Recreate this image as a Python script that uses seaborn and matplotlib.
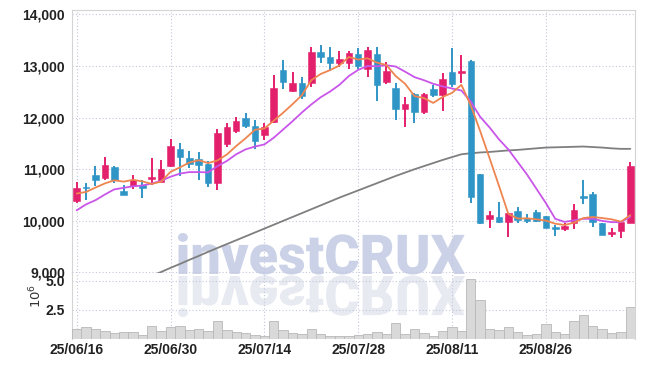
import numpy as np
import pandas as pd
import matplotlib
matplotlib.use('Agg')
import matplotlib.pyplot as plt
import seaborn as sns
from matplotlib.ticker import FuncFormatter
from matplotlib.textpath import TextPath
from matplotlib.patches import PathPatch
from matplotlib.font_manager import FontProperties
from matplotlib.transforms import Affine2D, IdentityTransform

# trading days 25/06/16 .. 25/09/08 (08/15 holiday)
days = pd.bdate_range('2025-06-16', '2025-09-08')
days = days[days != pd.Timestamp('2025-08-15')]
date_labels = [d.strftime('%y/%m/%d') for d in days]

opens = [10390, 10650, 10890, 10835, 11040, 10580, 10675, 10690, 10810, 10760,
         11070, 11390, 11220, 11195, 11110, 10725, 11490, 11745, 11990, 11845,
         11670, 11920, 12920, 12520, 12675, 12675, 13270, 13180, 13050, 13050,
         13230, 12935, 13230, 12695, 12565, 12170, 12465, 12110, 12545, 12435,
         12875, 12860, 13095, 10905, 10035, 10080, 9980, 10190, 10060, 10175,
         10090, 9880, 9845, 9950, 10480, 10515, 9960, 9750, 9805, 9965]
highs = [10750, 10740, 11070, 11230, 11060, 10690, 10890, 10800, 11210, 11180,
         11580, 11510, 11350, 11340, 11160, 11770, 11905, 12015, 12080, 11950,
         11890, 12820, 13115, 12875, 12790, 13360, 13405, 13370, 13295, 13295,
         13340, 13370, 13370, 13080, 12665, 12390, 12470, 12480, 12630, 12855,
         13340, 13210, 13110, 10905, 10195, 10375, 10160, 10260, 10135, 10205,
         10095, 9915, 9950, 10335, 10800, 10555, 9965, 9870, 9985, 11145]
lows = [10340, 10400, 10670, 10790, 10740, 10500, 10610, 10435, 10690, 10750,
        11045, 10870, 11015, 10800, 10650, 10600, 11435, 11695, 11790, 11400,
        11565, 11900, 12545, 12500, 12355, 12600, 13060, 12900, 12985, 12950,
        12950, 12790, 12315, 12650, 11950, 11820, 11890, 12070, 12405, 12130,
        12585, 12665, 10350, 9935, 9855, 9950, 9690, 9960, 9960, 9980,
        9860, 9705, 9800, 9835, 10325, 9885, 9735, 9690, 9660, 9960]
closes = [10630, 10640, 10790, 11080, 10790, 10505, 10800, 10640, 10850, 11000,
          11450, 11240, 11100, 11080, 10725, 11700, 11810, 11930, 11835, 11545,
          11820, 12570, 12695, 12675, 12415, 13270, 13180, 13060, 13130, 13245,
          13005, 13315, 12635, 12900, 12170, 12260, 12110, 12455, 12435, 12740,
          12650, 12900, 10455, 9960, 10115, 9980, 10155, 10015, 9995, 9995,
          9865, 9845, 9895, 10220, 10445, 9980, 9735, 9780, 9980, 11065]

ma5 = [10530, 10560, 10645, 10725, 10785, 10760, 10795, 10765, 10715, 10760,
       10950, 11035, 11130, 11175, 11120, 11170, 11285, 11450, 11600, 11765,
       11790, 11940, 12095, 12260, 12435, 12725, 12845, 12920, 13010, 13175,
       13125, 13150, 13065, 13020, 12805, 12655, 12415, 12380, 12285, 12400,
       12480, 12635, 12235, 11740, 11215, 10680, 10135, 10045, 10050, 10030,
       10005, 9945, 9920, 9965, 10055, 10075, 10055, 10030, 9985, 10110]
ma10 = [10205, 10320, 10400, 10510, 10610, 10640, 10670, 10685, 10725, 10775,
        10855, 10915, 10945, 10945, 10940, 11060, 11160, 11290, 11385, 11440,
        11480, 11610, 11770, 11930, 12100, 12255, 12395, 12505, 12635, 12805,
        12925, 13000, 12995, 13015, 12990, 12890, 12785, 12725, 12655, 12605,
        12565, 12525, 12310, 12015, 11810, 11580, 11385, 11140, 10895, 10620,
        10345, 10040, 9980, 10010, 10040, 10040, 10000, 9975, 9975, 10080]
ma60 = [np.nan] * 8 + [
    8935, 9010, 9090, 9165, 9245, 9320, 9400, 9475, 9550, 9625,
    9700, 9775, 9850, 9925, 10000, 10075, 10150, 10225, 10300, 10375,
    10450, 10520, 10590, 10660, 10730, 10800, 10870, 10935, 11000, 11060,
    11120, 11180, 11235, 11290, 11310, 11325, 11335, 11350, 11365, 11375,
    11390, 11405, 11420, 11425, 11430, 11435, 11440, 11430, 11420, 11405,
    11395, 11395]
volume = [860000, 950000, 860000, 630000, 460000, 540000, 540000, 260000, 1120000, 630000,
          950000, 1120000, 720000, 780000, 630000, 1470000, 720000, 540000, 460000, 340000,
          200000, 1470000, 720000, 460000, 370000, 860000, 370000, 230000, 230000, 230000,
          290000, 370000, 540000, 370000, 1380000, 370000, 860000, 460000, 200000, 630000,
          1030000, 630000, 5090000, 3300000, 860000, 720000, 1030000, 540000, 260000, 430000,
          1290000, 540000, 370000, 1550000, 2070000, 1120000, 780000, 460000, 540000, 2760000]

UP = '#e3206b'
DOWN = '#2f95c6'

sns.set_style('white')
plt.rcParams['font.family'] = ['Liberation Sans Narrow', 'Liberation Sans', 'DejaVu Sans']

df = pd.DataFrame({'o': opens, 'h': highs, 'l': lows, 'c': closes,
                   'ma5': ma5, 'ma10': ma10, 'ma60': ma60, 'vol': volume})
df['i'] = np.arange(len(df))
df['col'] = np.where(df['c'] >= df['o'], UP, DOWN)

W, H = 645, 367
fig = plt.figure(figsize=(W / 100, H / 100), dpi=100)
fig.patch.set_facecolor('white')
ax = fig.add_axes([72 / W, 1 - 273 / H, 563 / W, 263 / H])
axv = fig.add_axes([72 / W, 1 - 338.5 / H, 563 / W, 65.5 / H])
for a in (ax, axv):
    a.set_facecolor('none')

# watermark with reflection
fp = FontProperties(family=['Roboto', 'DejaVu Sans'], weight='black')
tp = TextPath((0, 0), 'investCRUX', size=40, prop=fp)
ext = tp.get_extents()
sx = 287 / ext.width
sy = 41 / ext.y1
base = H - 274
tr = Affine2D().translate(-ext.x0, 0).scale(sx, sy).translate(178, base)
fig.add_artist(PathPatch(tr.transform_path(tp), fc='#cbd2e8', ec='none',
                         transform=IdentityTransform(), zorder=-1))
rtr = Affine2D().translate(-ext.x0, 0).scale(sx, -sy).translate(178, base - 2)
fig.add_artist(PathPatch(rtr.transform_path(tp), fc='#e8eaf2', ec='none',
                         transform=IdentityTransform(), zorder=-1))

# candles
ax.vlines(df['i'], df['l'], df['h'], colors=df['col'], lw=1.4, zorder=3)
ax.bar(df['i'], df['c'] - df['o'], bottom=df['o'], width=0.7,
       color=df['col'], edgecolor=df['col'], lw=0.4, zorder=4)

sns.lineplot(x=df['i'], y=df['ma60'], ax=ax, color='#7f7f7f', lw=1.3, zorder=2)
sns.lineplot(x=df['i'], y=df['ma10'], ax=ax, color='#c955ea', lw=1.3, zorder=5)
sns.lineplot(x=df['i'], y=df['ma5'], ax=ax, color='#ee8550', lw=1.3, zorder=6)

sns.barplot(x=df['i'], y=df['vol'], ax=axv, color='#d9d9d9', width=1.0,
            edgecolor='#b8b8b8', linewidth=0.6, saturation=1, zorder=3)

grid_kw = dict(color='#c4c6da', lw=0.8, ls=(0, (1, 2)))
tick_pos = list(range(0, len(df), 10))

ax.set_xlim(-0.5, len(df) - 0.5)
ax.set_ylim(8990, 14085)
ax.set_yticks([9000, 10000, 11000, 12000, 13000, 14000])
ax.yaxis.set_major_formatter(FuncFormatter(lambda v, p: f'{v:,.0f}'))
ax.set_xticks(tick_pos)
ax.set_xticklabels([])
ax.grid(True, **grid_kw)
ax.set_xlabel('')
ax.set_ylabel('')

axv.set_xlim(-0.5, len(df) - 0.5)
axv.set_ylim(0, 5.65e6)
axv.set_yticks([2.5e6, 5.0e6])
axv.set_yticklabels(['2.5', '5.0'])
axv.set_xticks(tick_pos)
axv.set_xticklabels([date_labels[k] for k in tick_pos])
axv.grid(True, **grid_kw)
axv.set_xlabel('')
axv.set_ylabel(r'$10^6$', fontsize=9.5, color='#333333', rotation=90)
axv.yaxis.set_label_coords(-0.05, 0.65)

for a in (ax, axv):
    a.tick_params(length=0, labelsize=10, colors='#222222')
    for lab in a.get_xticklabels() + a.get_yticklabels():
        lab.set_fontweight('bold')
    a.set_axisbelow(True)
ax.tick_params(axis='y', pad=5)
axv.tick_params(axis='y', pad=5)
axv.tick_params(axis='x', pad=3)

for s in ('left', 'top', 'right'):
    ax.spines[s].set_color('#d4d4d4')
ax.spines['bottom'].set_visible(False)
for s in ('left', 'right'):
    axv.spines[s].set_color('#d4d4d4')
axv.spines['top'].set_visible(False)
axv.spines['bottom'].set_visible(False)

fig.savefig('out.png', dpi=100)
